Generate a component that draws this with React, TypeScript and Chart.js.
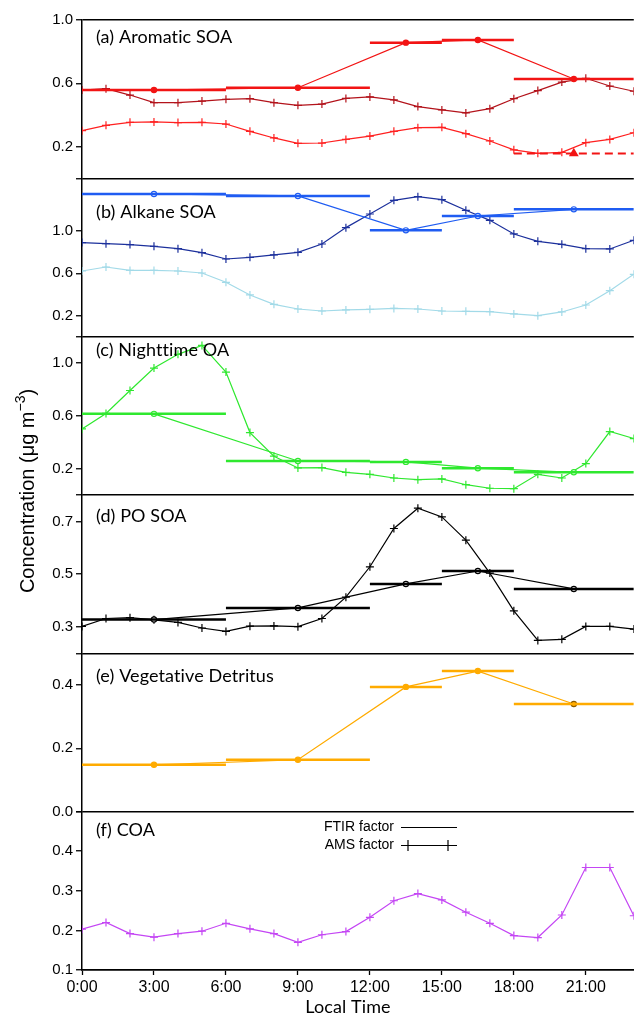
import React, { useEffect, useRef } from 'react';
import { Chart, registerables } from 'chart.js';

Chart.register(...registerables);

// ---------- categories / bins ----------
const hours = [0, 1, 2, 3, 4, 5, 6, 7, 8, 9, 10, 11, 12, 13, 14, 15, 16, 17, 18, 19, 20, 21, 22, 23];
const binStart = [0, 6, 12, 15, 18];
const binEnd = [6, 12, 15, 18, 23];
const binCenter = [3, 9, 13.5, 16.5, 20.5];
const xTickValues = [0, 3, 6, 9, 12, 15, 18, 21];
const xTickLabels = ['0:00', '3:00', '6:00', '9:00', '12:00', '15:00', '18:00', '21:00'];

// ---------- (a) Aromatic SOA ----------
const aromaticFTIR = [0.558, 0.572, 0.857, 0.874, 0.627];
const aromaticFTIR2 = [0.157]; // last bin only (dashed)
const aromaticAMSUpper = [0.558, 0.566, 0.526, 0.478, 0.478, 0.488, 0.499, 0.503, 0.478, 0.461, 0.469, 0.505, 0.514, 0.495, 0.453, 0.432, 0.413, 0.44, 0.503, 0.554, 0.608, 0.632, 0.583, 0.55];
const aromaticAMSLower = [0.301, 0.335, 0.354, 0.356, 0.352, 0.354, 0.343, 0.297, 0.255, 0.221, 0.223, 0.246, 0.267, 0.297, 0.32, 0.322, 0.282, 0.236, 0.18, 0.158, 0.164, 0.225, 0.246, 0.288];

// ---------- (b) Alkane SOA ----------
const alkaneFTIR = [1.352, 1.333, 1.007, 1.143, 1.206];
const alkaneAMSDark = [0.891, 0.881, 0.872, 0.856, 0.834, 0.796, 0.736, 0.752, 0.774, 0.799, 0.878, 1.033, 1.162, 1.292, 1.326, 1.298, 1.197, 1.102, 0.973, 0.903, 0.875, 0.834, 0.831, 0.913];
const alkaneAMSLight = [0.622, 0.66, 0.628, 0.628, 0.622, 0.603, 0.515, 0.395, 0.306, 0.262, 0.243, 0.253, 0.259, 0.268, 0.262, 0.243, 0.24, 0.237, 0.215, 0.199, 0.234, 0.3, 0.436, 0.591];

// ---------- (c) Nighttime OA ----------
const nightFTIR = [0.615, 0.258, 0.251, 0.203, 0.172];
const nightAMS = [0.501, 0.618, 0.792, 0.962, 1.066, 1.134, 0.932, 0.473, 0.294, 0.205, 0.208, 0.172, 0.157, 0.129, 0.116, 0.122, 0.078, 0.051, 0.048, 0.157, 0.129, 0.238, 0.481, 0.428];

// ---------- (d) PO SOA ----------
const poFTIR = [0.328, 0.372, 0.463, 0.512, 0.444];
const poAMS = [0.302, 0.332, 0.335, 0.327, 0.317, 0.296, 0.283, 0.303, 0.304, 0.301, 0.332, 0.413, 0.528, 0.673, 0.75, 0.717, 0.629, 0.504, 0.361, 0.249, 0.253, 0.302, 0.302, 0.292];

// ---------- (e) Vegetative Detritus ----------
const vegFTIR = [0.148, 0.164, 0.394, 0.444, 0.34];

// ---------- (f) COA ----------
const coaAMS = [0.203, 0.22, 0.192, 0.183, 0.192, 0.198, 0.218, 0.204, 0.192, 0.17, 0.189, 0.197, 0.233, 0.275, 0.293, 0.277, 0.246, 0.218, 0.187, 0.182, 0.239, 0.359, 0.359, 0.237];

// ---------- axes ----------
const panelIds = ['ya', 'yb', 'yc', 'yd', 'ye', 'yf'];
const panelLabels = ['(a) Aromatic SOA', '(b) Alkane SOA', '(c) Nighttime OA', '(d) PO SOA', '(e) Vegetative Detritus', '(f) COA'];
const panelMin = [0, 0, 0, 0.2, 0, 0.1];
const panelMax = [1.0, 1.5, 1.2, 0.8, 0.5, 0.5];
const panelTicks = [
  [0.2, 0.6, 1.0],
  [0.2, 0.6, 1.0],
  [0.2, 0.6, 1.0],
  [0.3, 0.5, 0.7],
  [0.0, 0.2, 0.4],
  [0.1, 0.2, 0.3, 0.4],
];

// layout (not data)
const LABEL_DY = [16.7, 33.4, 13.3, 21.3, 23.3, 19];

const C = {
  aroF: '#f21414',
  aroUp: '#b3131b',
  aroLow: '#ff2020',
  alkF: '#1f5cf2',
  alkDark: '#1c309c',
  alkLight: '#a2dae8',
  night: '#2fe82f',
  po: '#000000',
  veg: '#ffab00',
  vegEdge: '#8a5a00',
  coa: '#c446f4',
};

const pts = (xs: number[], ys: number[]) => xs.map((x, i) => ({ x, y: ys[i] }));
const barPts = (vals: number[]) => {
  const out: any[] = [];
  vals.forEach((v, i) => {
    out.push({ x: binStart[i], y: v }, { x: binEnd[i], y: v }, { x: binEnd[i], y: null });
  });
  return out;
};

const ams = (vals: number[], color: string, yAxisID: string) => ({
  data: pts(hours, vals),
  yAxisID,
  xAxisID: 'x',
  borderColor: color,
  backgroundColor: color,
  borderWidth: 1.2,
  pointStyle: 'cross',
  pointRadius: 4,
  pointBorderColor: color,
  pointBorderWidth: 1.2,
  tension: 0,
  fill: false,
});
const ftirLine = (vals: number[], color: string, yAxisID: string, filled: boolean, edge?: any) => ({
  data: pts(binCenter, vals),
  yAxisID,
  xAxisID: 'x',
  borderColor: color,
  backgroundColor: color,
  borderWidth: 1.2,
  pointStyle: 'circle',
  pointRadius: 2.6,
  pointBackgroundColor: filled ? color : '#ffffff',
  pointBorderColor: edge || color,
  pointBorderWidth: 1.2,
  tension: 0,
  fill: false,
});
const ftirBars = (vals: number[], color: string, yAxisID: string) => ({
  data: barPts(vals),
  yAxisID,
  xAxisID: 'x',
  borderColor: color,
  backgroundColor: color,
  borderWidth: 2.5,
  pointRadius: 0,
  spanGaps: false,
  tension: 0,
  fill: false,
});

const decor = {
  id: 'decor',
  afterDraw(chart: any) {
    const ctx = chart.ctx as CanvasRenderingContext2D;
    const area = chart.chartArea;
    ctx.save();
    // panel labels
    ctx.fillStyle = '#000';
    ctx.textAlign = 'left';
    ctx.textBaseline = 'middle';
    ctx.font = '18px Lato, "Open Sans", sans-serif';
    (ctx as any).letterSpacing = '0.1px';
    panelIds.forEach((id, i) => {
      const s = chart.scales[id];
      ctx.fillText(panelLabels[i], area.left + 14, s.top + LABEL_DY[i]);
    });
    // x title
    ctx.textAlign = 'center';
    ctx.fillText('Local Time', 348, 1007);
    (ctx as any).letterSpacing = '0px';
    // y title
    ctx.save();
    const cy = (area.top + area.bottom) / 2 - 4;
    ctx.translate(28, cy);
    ctx.rotate(-Math.PI / 2);
    const big = '20px "Liberation Sans", Arial, sans-serif';
    const small = '14px "Liberation Sans", Arial, sans-serif';
    const t1 = 'Concentration (\u03bcg m';
    const t2 = '\u22123';
    const t3 = ')';
    ctx.font = big;
    const w1 = ctx.measureText(t1).width;
    const w3 = ctx.measureText(t3).width;
    ctx.font = small;
    const w2 = ctx.measureText(t2).width;
    const x0 = -(w1 + w2 + w3) / 2;
    ctx.textAlign = 'left';
    ctx.textBaseline = 'middle';
    ctx.font = big;
    ctx.fillText(t1, x0, 0);
    ctx.font = small;
    ctx.fillText(t2, x0 + w1, -7);
    ctx.font = big;
    ctx.fillText(t3, x0 + w1 + w2, 0);
    ctx.restore();
    // legend
    ctx.font = '14px "Liberation Sans", Arial, sans-serif';
    ctx.textAlign = 'right';
    ctx.textBaseline = 'middle';
    ctx.fillText('FTIR factor', 394, 827);
    ctx.fillText('AMS factor', 394, 845);
    ctx.strokeStyle = '#000';
    ctx.lineWidth = 1.2;
    ctx.beginPath();
    ctx.moveTo(401, 827.5);
    ctx.lineTo(457, 827.5);
    ctx.moveTo(401, 845.5);
    ctx.lineTo(457, 845.5);
    [408, 448].forEach((cx) => {
      ctx.moveTo(cx - 5, 845.5);
      ctx.lineTo(cx + 5, 845.5);
      ctx.moveTo(cx, 840);
      ctx.lineTo(cx, 851);
    });
    ctx.stroke();
    ctx.restore();
  },
};

function buildYScale(i: number) {
  const min = panelMin[i];
  const max = panelMax[i];
  const labeled = panelTicks[i];
  const all = labeled.some((v) => Math.abs(v - max) < 1e-9) ? labeled.slice() : [...labeled, max];
  return {
    type: 'linear',
    position: 'left',
    stack: 'panels',
    stackWeight: 1,
    weight: 6 - i,
    min,
    max,
    afterFit: (s: any) => {
      s.width = 82;
    },
    afterBuildTicks: (s: any) => {
      s.ticks = all.map((v) => ({ value: v }));
    },
    ticks: {
      autoSkip: false,
      padding: 3,
      color: '#000',
      font: { family: '"Liberation Sans", Arial, sans-serif', size: 15 },
      callback: (v: number) => {
        const hit = labeled.some((t) => Math.abs(t - v) < 1e-9);
        return hit ? Number(v).toFixed(1) : '';
      },
    },
    grid: {
      drawOnChartArea: true,
      drawTicks: true,
      tickLength: 6,
      tickColor: '#000',
      tickWidth: 1.3,
      lineWidth: 1.5,
      color: (c: any) => (c.tick && Math.abs(c.tick.value - max) < 1e-9 ? '#000' : 'rgba(0,0,0,0)'),
    },
    border: { display: true, color: '#000', width: 1.5 },
  };
}

export default function App() {
  const ref = useRef<HTMLCanvasElement>(null);
  useEffect(() => {
    const canvas = ref.current;
    if (!canvas) return;
    const datasets: any[] = [
      // (a)
      ftirBars(aromaticFTIR, C.aroF, 'ya'),
      ftirLine(aromaticFTIR, C.aroF, 'ya', true),
      {
        data: [
          { x: binStart[4], y: aromaticFTIR2[0] },
          { x: binCenter[4], y: aromaticFTIR2[0] },
          { x: binEnd[4], y: aromaticFTIR2[0] },
        ],
        yAxisID: 'ya',
        xAxisID: 'x',
        borderColor: C.aroF,
        backgroundColor: C.aroF,
        borderWidth: 2.2,
        borderDash: [8, 5],
        pointStyle: 'triangle',
        pointRadius: (c: any) => (c.dataIndex === 1 ? 3.5 : 0),
        pointBackgroundColor: C.aroF,
        pointBorderColor: C.aroF,
        tension: 0,
        fill: false,
      },
      ams(aromaticAMSUpper, C.aroUp, 'ya'),
      ams(aromaticAMSLower, C.aroLow, 'ya'),
      // (b)
      ftirBars(alkaneFTIR, C.alkF, 'yb'),
      ftirLine(alkaneFTIR, C.alkF, 'yb', false),
      ams(alkaneAMSDark, C.alkDark, 'yb'),
      ams(alkaneAMSLight, C.alkLight, 'yb'),
      // (c)
      ftirBars(nightFTIR, C.night, 'yc'),
      ftirLine(nightFTIR, C.night, 'yc', false),
      ams(nightAMS, C.night, 'yc'),
      // (d)
      ftirBars(poFTIR, C.po, 'yd'),
      ftirLine(poFTIR, C.po, 'yd', false),
      ams(poAMS, C.po, 'yd'),
      // (e)
      ftirBars(vegFTIR, C.veg, 'ye'),
      ftirLine(vegFTIR, C.veg, 'ye', true, (c: any) => (c.dataIndex === vegFTIR.length - 1 ? C.vegEdge : C.veg)),
      // (f)
      ams(coaAMS, C.coa, 'yf'),
    ];

    const scales: any = {
      x: {
        type: 'linear',
        position: 'bottom',
        min: 0,
        max: 23,
        afterFit: (s: any) => {
          s.height = 45;
        },
        afterBuildTicks: (s: any) => {
          s.ticks = xTickValues.map((v) => ({ value: v }));
        },
        ticks: {
          autoSkip: false,
          maxRotation: 0,
          padding: 3,
          color: '#000',
          font: { family: '"Liberation Sans", Arial, sans-serif', size: 16 },
          callback: (v: number) => {
            const i = xTickValues.indexOf(v);
            return i >= 0 ? xTickLabels[i] : '';
          },
        },
        grid: {
          drawOnChartArea: false,
          drawTicks: true,
          tickLength: 5,
          tickColor: '#000',
          tickWidth: 1.3,
        },
        border: { display: true, color: '#000', width: 1.8 },
      },
    };
    panelIds.forEach((id, i) => {
      scales[id] = buildYScale(i);
    });

    const chart = new Chart(canvas, {
      type: 'line',
      data: { datasets },
      options: {
        animation: false,
        responsive: false,
        devicePixelRatio: 1,
        layout: { padding: { top: 20, left: 0, right: 0, bottom: 0 } },
        plugins: { legend: { display: false }, tooltip: { enabled: false } },
        scales,
      } as any,
      plugins: [decor],
    } as any);
    return () => chart.destroy();
  }, []);

  return (
    <div style={{ position: 'absolute', left: 0, top: 0, width: 639, height: 1015, background: '#fff' }}>
      <canvas ref={ref} width={639} height={1015} style={{ display: 'block', width: '639px', height: '1015px' }} />
    </div>
  );
}
